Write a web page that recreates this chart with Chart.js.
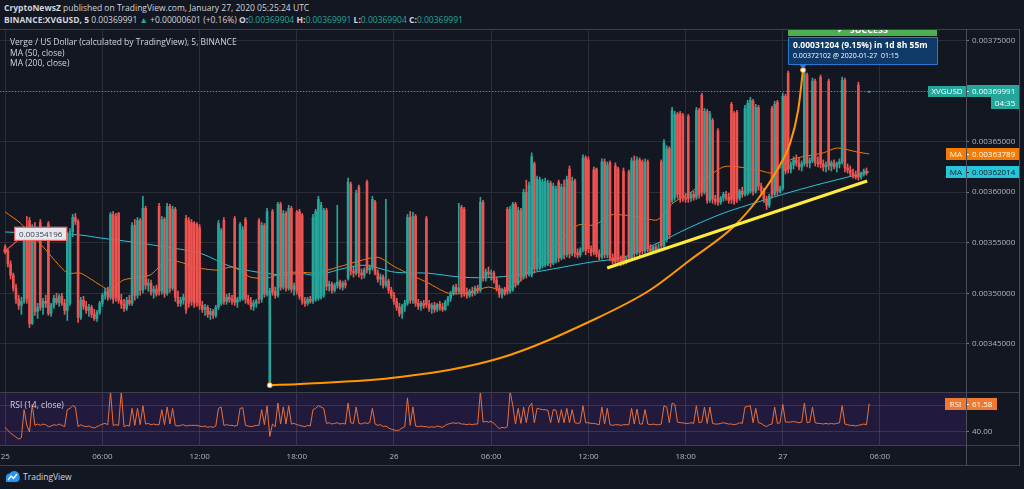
<!DOCTYPE html>
<html><head><meta charset="utf-8">
<script src="https://cdn.jsdelivr.net/npm/chart.js@4.4.1/dist/chart.umd.min.js"></script>
<style>
html,body{margin:0;padding:0;background:#131722;}
body{width:1024px;height:489px;position:relative;overflow:hidden;font-family:'Open Sans',sans-serif;color:#d1d4dc;}
.t{position:absolute;white-space:nowrap;font-size:8.5px;line-height:11px;}
.b{font-weight:700}
.g{color:#26a69a}
#mainWrap{position:absolute;left:0;top:29px;width:1024px;height:363px;}
#rsiWrap{position:absolute;left:0;top:392px;width:1024px;height:73px;}
.hl{position:absolute;height:1px;background:#3c404b;z-index:5;}
.vl{position:absolute;width:1px;background:#4a4e5a;z-index:5;}
</style></head>
<body>
<div class="t" style="left:4px;top:2px;"><span class="b">CryptoNewsZ</span> published on TradingView.com, January 27, 2020 05:25:24 UTC</div>
<div class="t" style="left:4px;top:14px;"><span class="b">BINANCE:XVGUSD, 5</span> 0.00369991 <span class="g">▲</span> +0.00000601 (+0.16%) <span class="b">O:</span><span class="g">0.00369904</span> <span class="b">H:</span><span class="g">0.00369991</span> <span class="b">L:</span><span class="g">0.00369904</span> <span class="b">C:</span><span class="g">0.00369991</span></div>

<div id="mainWrap"><canvas id="main"></canvas></div>
<div id="rsiWrap"><canvas id="rsi"></canvas></div>

<div class="hl" style="left:0;top:29px;width:1020px;"></div>
<div class="hl" style="left:0;top:392px;width:1020px;"></div>
<div class="hl" style="left:0;top:445px;width:1020px;"></div>
<div class="hl" style="left:0;top:465px;width:1020px;"></div>
<div class="vl" style="left:966px;top:29px;height:437px;"></div>
<div class="vl" style="left:1019px;top:29px;height:437px;"></div>

<div class="t" style="left:10px;top:36px;z-index:6;">Verge / US Dollar (calculated by TradingView), 5, BINANCE</div>
<div class="t" style="left:10px;top:47px;z-index:6;">MA (50, close)</div>
<div class="t" style="left:10px;top:57px;z-index:6;">MA (200, close)</div>
<div class="t" style="left:10px;top:399px;z-index:6;">RSI (14, close)</div>

<svg style="position:absolute;left:5px;top:470px" width="16" height="13" viewBox="0 0 16 13">
<path d="M1 12 L1 7 Q1 3.5 4.5 3.5 Q6 0.5 10 1 Q14.5 2 14.5 6.5 Q15.5 10.5 12 12 Z" fill="#2196f3"/>
<path d="M3 10 L6 6 L8.5 8.5 L12 4" stroke="#ffffff" stroke-width="1.3" fill="none"/>
</svg>
<div class="t" style="left:23px;top:471px;">TradingView</div>

<script>
// ---------- data (prices in units of 0.00001 USD) ----------
const SCALE = 1e-5;
const BAR_MINUTES = 10;                       // one candle = 10 minutes, starting 25 Jan 00:00 UTC
const timeTickValues = [0,6,12,18,24,30,36,42,48,54];   // hours since 25 Jan 00:00
const timeTickLabels = ['25','06:00','12:00','18:00','26','06:00','12:00','18:00','27','06:00'];
const priceTicks = [345,350,355,360,365,370,375];
const rsiTicks = [40,60];

const opens = [
354.6,354.2,352.9,351.8,350.5,349.4,348.8,349.2,355.5,357.2,
347.0,356.5,348.2,357.0,348.6,349.2,356.9,348.0,348.8,349.5,
349.1,349.7,349.0,348.3,349.0,356.1,357.5,357.1,347.6,349.3,
348.7,348.3,348.6,347.9,347.5,348.1,349.0,349.8,350.2,349.6,
357.8,357.6,357.9,349.3,348.9,348.5,349.3,349.0,356.7,349.8,
357.2,350.3,358.4,350.8,351.0,350.1,350.4,358.6,350.2,357.3,
350.0,358.6,350.5,358.3,349.6,349.0,349.3,357.4,357.2,357.0,
356.9,356.8,356.5,348.8,348.4,348.6,347.9,348.2,347.8,348.6,
349.0,357.2,349.2,349.6,349.4,357.4,349.1,349.4,349.5,357.3,
349.4,349.1,348.7,349.0,357.2,349.4,356.7,349.9,341.2,358.1,
350.2,349.8,358.8,350.6,357.9,350.5,358.4,350.4,358.0,358.1,
357.7,349.2,349.0,349.4,349.2,349.4,349.5,349.6,349.8,358.2,
350.7,350.9,350.3,350.8,351.1,350.6,351.0,351.5,360.8,352.2,
352.0,360.5,352.0,351.8,361.0,352.3,352.5,359.0,352.0,351.4,
351.6,350.8,351.2,350.3,349.8,349.2,348.6,348.0,348.7,349.0,
357.5,349.3,357.6,349.0,348.7,349.0,357.4,348.9,348.5,348.8,
348.4,348.9,348.6,348.4,349.1,349.5,350.0,350.6,350.2,358.5,
358.3,350.1,349.8,350.2,350.0,350.5,350.3,359.0,351.5,352.1,
351.9,352.0,351.3,350.5,349.9,350.3,358.3,350.2,350.4,358.8,
351.0,358.2,351.6,360.0,351.9,351.8,362.8,352.4,352.5,352.7,
352.8,352.9,360.9,353.0,353.2,361.0,353.5,360.5,353.8,362.3,
353.9,361.1,354.0,353.8,354.3,363.4,363.2,354.4,362.2,362.3,
353.9,353.6,363.0,353.8,362.9,353.5,362.6,362.3,353.3,362.1,
353.2,362.0,353.5,363.1,354.0,363.2,363.0,354.2,363.0,354.4,
354.2,354.6,354.3,363.0,354.7,355.3,364.3,359.2,359.5,367.7,
367.8,367.6,359.5,367.5,359.4,359.8,359.5,368.1,369.6,360.0,
368.0,359.2,367.1,359.3,366.1,359.0,359.4,359.8,359.5,368.7,
367.8,367.9,359.4,360.1,359.8,359.9,360.1,369.0,360.1,368.4,
360.6,360.1,359.3,358.7,368.3,359.8,368.9,360.1,360.4,369.5,
371.8,362.3,362.7,363.2,362.9,362.5,362.8,371.6,362.9,363.1,
371.0,363.0,371.4,362.8,362.5,371.0,362.6,362.9,362.5,362.8,
363.0,371.1,362.4,362.2,361.9,361.7,370.6,361.5,361.8,362.1,
369.904];
const highs = [
354.8,354.4,353.2,352.0,350.9,349.8,349.6,355.8,357.6,357.5,
356.8,357.0,349.0,357.3,349.5,349.8,357.1,349.0,349.8,350.0,
349.9,350.0,349.4,356.0,356.4,357.8,357.9,357.3,349.6,349.7,
349.2,348.9,348.8,348.4,348.3,349.2,350.0,350.5,350.6,358.0,
358.1,357.9,358.0,349.9,349.4,349.6,349.8,357.0,357.3,357.5,
357.4,359.6,358.6,351.4,351.3,350.7,350.8,358.9,357.6,357.5,
358.9,358.8,358.6,358.5,350.2,349.6,349.9,357.7,357.5,357.3,
357.1,357.0,356.8,349.2,348.9,348.8,348.5,348.4,348.8,357.2,
356.4,357.5,349.9,350.0,349.8,357.6,349.6,357.0,356.6,357.5,
349.8,349.6,349.3,349.4,357.4,357.0,356.9,358.4,350.5,358.3,
350.6,359.0,359.0,358.2,358.1,358.7,358.6,351.0,358.2,358.3,
357.9,349.6,349.6,349.7,357.8,358.3,359.6,359.0,358.4,358.4,
351.2,351.1,351.0,358.7,351.3,351.2,351.3,361.4,361.0,352.6,
360.2,360.7,352.4,352.5,361.2,352.8,359.6,359.2,352.3,351.9,
351.8,359.3,351.4,350.6,350.1,349.5,349.0,348.9,349.3,357.8,
358.1,358.0,357.8,349.4,349.2,349.3,357.6,349.3,349.0,349.1,
349.0,349.2,349.0,349.3,349.7,350.2,350.8,350.9,358.9,358.7,
358.5,350.5,350.4,350.6,350.7,350.8,359.5,359.2,352.4,352.6,
352.3,352.2,351.6,350.8,350.5,350.6,358.5,358.6,359.0,359.0,
358.5,358.4,360.3,361.2,361.0,363.9,363.0,361.6,361.5,361.3,
361.4,361.2,361.1,360.9,360.6,361.2,360.8,361.2,361.6,362.6,
361.5,361.3,354.4,354.5,363.7,363.6,363.5,354.7,362.5,362.4,
354.3,363.3,363.3,363.0,363.1,353.9,362.9,362.5,353.7,362.4,
353.6,362.2,363.4,363.6,363.5,363.4,363.2,363.3,363.2,354.8,
354.7,354.8,354.9,363.2,365.2,364.6,364.5,368.4,368.0,367.9,
368.0,367.8,359.9,367.7,360.0,360.1,368.4,368.3,369.8,368.3,
368.2,368.0,367.3,359.7,366.3,359.6,360.0,360.1,359.9,368.9,
368.0,368.1,360.3,360.5,368.6,369.1,369.4,369.2,368.7,368.6,
360.9,360.4,359.6,359.8,368.5,369.0,369.1,360.6,369.8,369.7,
372.0,363.0,363.5,363.7,363.4,363.1,372.2,371.8,363.4,371.3,
371.2,363.5,371.6,363.2,363.0,371.2,363.1,363.2,363.0,363.3,
371.4,371.3,362.8,362.6,362.3,362.1,370.9,362.0,362.3,362.4,
369.991];
const lows = [
353.9,352.6,351.4,350.2,349.0,348.4,347.9,349.0,349.0,346.6,
346.9,347.8,347.5,348.3,347.9,348.6,347.8,347.7,348.5,348.9,
348.7,348.8,347.9,347.3,348.8,355.6,356.8,347.1,347.4,348.4,
348.0,347.7,347.6,347.3,347.2,347.9,348.7,349.4,349.3,349.4,
349.0,349.2,349.0,348.5,348.2,348.3,348.8,348.8,349.3,349.5,
349.8,350.0,350.4,350.2,349.8,349.5,349.7,349.8,349.9,349.6,
349.8,350.1,350.3,349.2,348.7,348.7,348.9,348.0,348.6,348.8,
348.6,348.7,348.4,348.1,347.8,347.6,347.4,347.5,347.6,348.4,
348.8,348.9,348.9,349.1,348.9,348.8,348.6,349.2,349.3,349.0,
348.9,348.4,348.3,348.6,349.0,349.1,349.6,349.7,340.9,349.8,
349.5,349.6,350.3,350.4,350.2,350.3,350.1,349.8,349.9,349.4,
348.9,348.7,348.8,349.0,349.0,349.2,349.3,349.4,349.6,350.3,
350.2,350.0,350.1,350.5,350.4,350.3,350.5,351.3,351.8,351.6,
351.8,351.6,351.4,351.5,352.0,351.9,352.3,351.8,351.1,350.8,
350.5,350.6,350.0,349.5,348.9,348.3,347.7,347.5,348.2,348.8,
349.0,349.0,348.7,348.4,348.3,348.5,348.6,348.2,348.0,348.1,
348.2,348.3,348.2,348.3,348.8,349.2,349.8,349.9,350.0,349.6,
349.7,349.5,349.6,349.7,349.8,350.0,350.1,351.2,351.2,351.6,
351.3,351.0,350.2,349.6,349.5,349.8,349.9,350.0,350.2,350.6,
350.8,351.2,351.4,351.5,351.7,351.6,352.0,352.2,352.3,352.5,
352.6,352.7,352.6,352.8,353.0,353.1,353.3,353.4,353.6,353.5,
353.7,353.6,353.5,353.6,354.1,353.8,354.0,353.7,353.8,353.6,
353.3,353.4,353.5,353.5,353.2,352.9,352.8,352.9,352.7,352.8,
352.9,353.1,353.3,353.6,353.8,353.7,353.9,354.0,354.1,353.9,
354.0,354.0,354.1,354.3,354.5,355.1,355.4,359.0,359.2,359.4,
359.0,359.1,359.0,359.0,359.1,359.2,359.3,359.4,359.6,359.8,
358.9,359.0,358.9,358.8,358.7,358.8,359.1,359.2,358.9,358.9,
358.8,359.0,359.2,359.5,359.6,359.7,359.9,359.7,359.9,360.2,
359.8,359.0,358.3,358.5,359.4,359.6,359.7,359.9,360.2,361.8,
361.9,361.9,362.3,362.6,362.2,362.1,362.6,362.5,362.4,362.9,
362.6,362.5,362.4,362.1,362.0,362.2,362.1,362.3,362.0,362.4,
362.8,362.0,361.9,361.6,361.4,361.3,361.2,361.3,361.6,361.7,
369.904];
const closes = [
354.196,352.9,351.8,350.5,349.4,348.8,349.2,355.5,349.5,347.0,
356.5,348.2,348.6,348.6,349.2,349.0,348.0,348.8,349.5,349.1,
349.7,349.0,348.3,355.7,356.1,357.5,357.1,347.6,349.3,348.7,
348.3,348.6,347.9,347.5,348.1,349.0,349.8,350.2,349.6,357.8,
349.4,349.6,349.3,348.9,348.5,349.3,349.0,356.7,349.8,357.2,
350.3,358.4,350.8,351.0,350.1,350.4,349.9,350.2,357.3,350.0,
358.6,350.5,358.3,349.6,349.0,349.3,349.6,348.4,349.0,349.2,
349.0,349.1,348.8,348.4,348.6,347.9,348.2,347.8,348.6,356.9,
356.2,349.2,349.6,349.4,349.2,349.1,349.4,356.8,356.3,349.4,
349.1,348.7,349.0,349.2,349.4,356.7,349.9,358.1,350.2,350.1,
349.8,358.8,350.6,357.9,350.5,358.4,350.4,350.7,350.2,349.7,
349.2,349.0,349.4,349.2,357.5,358.1,359.3,358.7,358.2,350.7,
350.9,350.3,350.8,351.1,350.6,351.0,350.8,361.0,352.2,352.0,
359.9,352.0,351.8,352.3,352.3,352.5,359.3,352.0,351.4,351.6,
350.8,351.2,350.3,349.8,349.2,348.6,348.0,348.7,349.0,357.5,
349.3,357.6,349.0,348.7,349.0,348.8,348.9,348.5,348.8,348.4,
348.9,348.6,348.4,349.1,349.5,350.0,350.6,350.2,350.5,350.0,
350.1,349.8,350.2,350.0,350.5,350.3,359.0,351.5,352.1,351.9,
352.0,351.3,350.5,349.9,350.3,350.0,350.2,358.3,358.8,351.0,
358.2,351.6,360.0,351.9,360.7,363.5,352.4,361.3,361.2,361.0,
361.1,360.9,353.0,360.6,360.3,353.5,360.5,353.8,361.3,353.9,
361.1,354.0,353.8,354.3,363.4,354.2,354.4,354.0,354.1,353.9,
353.6,363.0,353.8,362.7,353.5,353.2,353.1,353.3,353.0,353.2,
353.4,353.5,363.1,354.0,363.2,354.1,354.2,363.0,354.4,354.2,
354.6,354.3,354.4,354.7,364.9,364.3,355.8,368.1,367.7,359.8,
359.4,359.5,359.3,359.4,359.8,359.5,368.1,359.8,360.0,368.0,
359.2,367.7,359.3,359.1,359.0,359.4,359.8,359.5,359.2,359.3,
359.1,359.4,360.1,359.8,368.3,368.8,369.1,360.1,368.4,360.6,
360.1,359.3,358.7,359.6,359.8,368.7,360.1,360.4,369.5,362.1,
362.3,362.7,363.2,362.9,362.5,362.8,371.8,362.9,363.1,371.0,
363.0,362.8,362.8,362.5,362.7,362.6,362.9,362.5,362.8,363.0,
371.1,362.4,362.2,361.9,361.7,361.5,361.5,361.8,362.1,361.9,
369.991];
const rsiValues = [
43.5,41,39,37.5,36,34.5,35.5,57,45,40,
61,45,46,45,46,45.5,44,44.5,45.5,45,
46,45,44,57,58,60,59,44,45.5,44.5,
44,44.5,43.5,43,44,45,46,46.5,45.5,71,
45,45.5,45,71,44,45,44.5,58,45,58,
45.5,60,46,46.5,45.5,46,45.5,45.5,57,45.5,
59,46,58,45,44.5,45,45.5,44.5,45,45,
45,45,44.5,44,44.5,43.5,44,43.5,44.5,58,
59,45,45.5,45,45,44.5,45,58,58.5,45,
44.5,44,44.5,45,45,57,45.5,60,36.5,46,
44,62,46,59,46,60,46,46.5,45.5,45,
44.5,44,45,44.5,57,58,60,59,58,46.5,
47,46,46.5,47,46,46.5,46,62,47,46.5,
59,46.5,46,47,46.5,47,58,46,45,45.5,
44,44.5,43,42,41.5,41,41.5,43,44,66,
45,59,44.5,44,44.5,44,44,43.5,44,43.5,
44.5,44,43.5,45,46,46.5,47,46.5,47,46,
46,45.5,46,45.5,46,46,71,47.5,48,47.5,
48,46.5,44.5,42.5,43.5,43,44,71,60,46,
58,46.5,59,47,59,62,47,58,57.5,57,
57,56.5,47,57,56.5,47,57,47,58,47,
57,47,46.5,47,60,47,47,46.5,46.5,46,
45.5,59,46,58,45.5,45,45.5,45.5,45,45.5,
45.5,45.5,58,46,57.5,46,46,57,46,45.5,
46,45.5,45.5,46,60,59,47,62,61,47.5,
47,47,46.5,46.5,47,46.5,60,47,47.5,59,
46.5,59,46.5,46,46,46.5,47,46.5,46,46,
45.5,46,47,46.5,59,59.5,60,47,58,47,
46.5,45,44,45.5,46,59,46.5,47,61,47.5,
47.5,47.5,48,47.5,47,47.5,62,47,47.5,59,
47,46.5,46.5,46,46.5,46,46.5,46,46.5,47,
60,46,45.5,45,45,44.5,45,45.5,46,45.5,
61.58];

// moving averages (time in hours, price in 0.00001 USD)
const ma50Times  = [0,0.93,2.35,3.83,4.63,5.86,6.48,7.28,7.9,8.95,10.0,10.99,11.6,13.09,14.07,15.12,16.17,17.16,18.21,19.14,20.56,22.04,23.02,24.07,26.11,27.35,28.58,29.81,30.68,31.67,32.72,34.14,35.37,36.42,37.35,39.2,40.25,41.23,42.28,44.32,46.42,47.41,48.46,50.49,51.36,52.59,53.33];
const ma50Values = [358.04,356.95,354.57,352.0,352.0,350.81,350.31,351.3,351.5,351.8,353.28,352.99,352.59,352.29,352.59,351.6,351.5,352.0,352.09,352.0,352.59,353.28,353.56,352.59,351.01,350.01,350.01,350.61,350.31,351.01,352.99,354.97,356.75,356.75,357.75,357.55,357.26,358.94,359.93,362.5,362.21,361.91,363.2,363.89,364.38,363.98,363.789];
const ma200Times  = [0,4.63,5.86,7.9,10.0,12.04,14.07,17.16,18.21,19.14,22.04,24.07,26.11,28.21,30.25,32.28,34.38,36.11,38.15,40.25,42.28,44.32,46.42,48.46,50.49,53.33];
const ma200Values = [356.06,355.76,355.47,355.06,354.55,353.96,352.57,351.78,351.98,351.78,352.77,352.08,351.98,351.58,351.58,351.98,352.57,353.07,353.56,354.95,356.53,357.92,359.01,360.0,360.89,362.014];

// drawings
const trendTimes  = [37.16, 53.21];
const trendPrices = [352.5, 361.11];
const curveTimes  = [16.333,18.21,24.38,30.56,36.42,39.81,42.28,44.94,46.42,47.65,48.46,48.95,49.25];
const curvePrices = [340.898,341.01,341.7,343.58,347.45,350.32,353.29,356.56,359.23,362.2,364.88,368.14,372.102];

// ---------- styling ----------
const UP = '#26a69a', DOWN = '#ef5350';
const GRID = '#2a2e39', AXIS = '#4a4e5a', TICK = '#b2b5be';
const MA50_C = '#f57c00', MA200_C = '#26c6da';
const RSI_C = '#e8703a', RSI_BG = '#221a3d';
const FONT = "'Open Sans', sans-serif";
Chart.defaults.font.family = FONT;
Chart.defaults.font.size = 8;
Chart.defaults.color = TICK;

const xMin = -0.321, xMax = 59.31;
const candleTimes = opens.map((_, i) => i * BAR_MINUTES / 60);
const N = closes.length;
const candleColor = c => closes[c.dataIndex] >= opens[c.dataIndex] ? UP : DOWN;
const fmt = v => (v * SCALE).toFixed(8);
const pts = (ts, vs) => ts.map((t, i) => ({x: t, y: vs[i]}));

function rectText(ctx, x0, yc, w, h, fill, text, color, align, tx) {
  ctx.fillStyle = fill;
  ctx.fillRect(x0, Math.round(yc - h / 2), w, h);
  if (text) {
    ctx.fillStyle = color;
    ctx.textBaseline = 'middle';
    ctx.textAlign = align || 'center';
    ctx.fillText(text, tx !== undefined ? tx : x0 + w / 2, Math.round(yc - h / 2) + h / 2 + 0.5);
  }
}
function valueBox(ctx, yc, fill, text, color, name, nameW, valW) {
  ctx.font = '8px ' + FONT;
  if (name) rectText(ctx, 966 - nameW, yc, nameW, 12, fill, name, color);
  rectText(ctx, 966, yc, valW || 53, 12, fill, text, color, 'left', 972);
  ctx.strokeStyle = color; ctx.lineWidth = 1;
  ctx.beginPath(); ctx.moveTo(966, Math.round(yc) + 0.5); ctx.lineTo(969, Math.round(yc) + 0.5); ctx.stroke();
}

const mainOverlay = {
  id: 'mainOverlay',
  afterDraw(chart) {
    const {ctx, chartArea: ca, scales: {x, y}} = chart;
    ctx.save();
    ctx.beginPath(); ctx.rect(ca.left, ca.top, ca.right - ca.left, ca.bottom - ca.top); ctx.clip();

    // last price dotted line
    const yLast = Math.round(y.getPixelForValue(closes[N - 1])) + 0.5;
    ctx.strokeStyle = UP; ctx.lineWidth = 1; ctx.setLineDash([1, 2]);
    ctx.beginPath(); ctx.moveTo(ca.left, yLast); ctx.lineTo(ca.right, yLast); ctx.stroke();
    ctx.setLineDash([]);

    // price label on first close
    const px0 = x.getPixelForValue(candleTimes[0]), py0 = y.getPixelForValue(closes[0]);
    ctx.strokeStyle = DOWN; ctx.lineWidth = 1.2;
    ctx.beginPath(); ctx.moveTo(px0, py0); ctx.lineTo(px0 + 12, py0 - 10); ctx.stroke();
    ctx.fillStyle = DOWN; ctx.beginPath(); ctx.arc(px0, py0, 2, 0, Math.PI * 2); ctx.fill();
    ctx.fillStyle = '#e6e8ee'; ctx.fillRect(px0 + 9, py0 - 24, 53, 14);
    ctx.strokeStyle = DOWN; ctx.lineWidth = 1; ctx.strokeRect(px0 + 9.5, py0 - 23.5, 52, 13);
    ctx.fillStyle = '#3a3e4a'; ctx.font = '8px ' + FONT; ctx.textAlign = 'center'; ctx.textBaseline = 'middle';
    ctx.fillText(fmt(closes[0]), px0 + 35.5, py0 - 16.5);

    // curve end markers
    const cs = {x: x.getPixelForValue(curveTimes[0]), y: y.getPixelForValue(curvePrices[0])};
    const ce = {x: x.getPixelForValue(curveTimes[curveTimes.length - 1]), y: y.getPixelForValue(curvePrices[curvePrices.length - 1])};
    [cs, ce].forEach(p => {
      ctx.fillStyle = '#ffffff'; ctx.strokeStyle = '#ff9800'; ctx.lineWidth = 1;
      ctx.beginPath(); ctx.arc(p.x, p.y, 2.5, 0, Math.PI * 2); ctx.fill(); ctx.stroke();
    });

    // measure annotation
    const hi = curvePrices[curvePrices.length - 1], lo = curvePrices[0];
    const bx = ce.x - 15, bw = 149, bTop = ce.y - 33, bh = 27;
    ctx.fillStyle = '#4caf50'; ctx.fillRect(bx, ca.top, bw, bTop - ca.top - 1);
    ctx.fillStyle = '#ffffff'; ctx.font = 'bold 9px ' + FONT; ctx.textAlign = 'center'; ctx.textBaseline = 'alphabetic';
    ctx.fillText('✓  SUCCESS', bx + bw / 2, ca.top + 4);
    ctx.fillStyle = '#0f3a68'; ctx.strokeStyle = '#2f7ad8'; ctx.lineWidth = 1;
    ctx.beginPath(); ctx.rect(bx + 0.5, bTop + 0.5, bw, bh); ctx.fill(); ctx.stroke();
    ctx.beginPath(); ctx.moveTo(ce.x - 4, bTop + bh + 0.5); ctx.lineTo(ce.x, bTop + bh + 4.5); ctx.lineTo(ce.x + 4, bTop + bh + 0.5);
    ctx.closePath(); ctx.fillStyle = '#2f7ad8'; ctx.fill();
    ctx.fillStyle = '#ffffff'; ctx.textAlign = 'left'; ctx.textBaseline = 'middle';
    ctx.font = 'bold 8.5px ' + FONT;
    ctx.fillText(fmt(hi - lo) + ' (' + ((hi - lo) / lo * 100).toFixed(2) + '%) in 1d 8h 55m', bx + 5, bTop + 8.5);
    ctx.font = '7px ' + FONT;
    ctx.fillText(fmt(hi) + ' @ 2020-01-27  01:15', bx + 5, bTop + 19.5);
    ctx.restore();

    // axis value labels
    ctx.save();
    const yL = y.getPixelForValue(closes[N - 1]);
    ctx.font = '8px ' + FONT;
    rectText(ctx, 928, yL, 38, 11, UP, 'XVGUSD', '#ffffff');
    valueBox(ctx, yL, UP, fmt(closes[N - 1]), '#ffffff');
    rectText(ctx, 991, yL + 12, 28, 12, UP, '04:35', '#ffffff');
    valueBox(ctx, y.getPixelForValue(ma50Values[ma50Values.length - 1]), MA50_C, fmt(ma50Values[ma50Values.length - 1]), '#ffffff', 'MA', 20);
    valueBox(ctx, y.getPixelForValue(ma200Values[ma200Values.length - 1]), MA200_C, fmt(ma200Values[ma200Values.length - 1]), '#131722', 'MA', 20);
    ctx.restore();
  }
};

new Chart(document.getElementById('main'), {
  type: 'bar',
  data: {
    datasets: [
      {type: 'line', label: 'trend', data: pts(trendTimes, trendPrices), borderColor: '#ffeb3b', borderWidth: 3, pointRadius: 0, order: 0},
      {type: 'line', label: 'curve', data: pts(curveTimes, curvePrices), borderColor: '#ff9800', borderWidth: 2, pointRadius: 0, cubicInterpolationMode: 'monotone', order: 1},
      {type: 'bar', label: 'body', data: candleTimes.map((t, i) => ({x: t, y: [opens[i], closes[i]]})),
        backgroundColor: candleColor, barThickness: 2, maxBarThickness: 2, minBarLength: 1, grouped: false, order: 2},
      {type: 'bar', label: 'wick', data: candleTimes.map((t, i) => ({x: t, y: [lows[i], highs[i]]})),
        backgroundColor: candleColor, barThickness: 1, maxBarThickness: 1, grouped: false, order: 3},
      {type: 'line', label: 'MA 50', data: pts(ma50Times, ma50Values), borderColor: MA50_C, borderWidth: 1, pointRadius: 0, tension: 0.25, order: 4},
      {type: 'line', label: 'MA 200', data: pts(ma200Times, ma200Values), borderColor: MA200_C, borderWidth: 1, pointRadius: 0, tension: 0.3, order: 5}
    ]
  },
  options: {
    responsive: true, maintainAspectRatio: false, animation: false, devicePixelRatio: 1,
    layout: {padding: 0},
    plugins: {legend: {display: false}, tooltip: {enabled: false}},
    events: [],
    scales: {
      x: {type: 'linear', min: xMin, max: xMax, offset: false,
        grid: {color: GRID, offset: false, drawTicks: false},
        border: {display: false}, ticks: {display: false},
        afterBuildTicks: s => { s.ticks = timeTickValues.map(v => ({value: v})); },
        afterFit: s => { s.height = 0; s.paddingLeft = 0; s.paddingRight = 0; }},
      y: {type: 'linear', position: 'right', min: 340.22, max: 376.16, beginAtZero: false,
        grid: {color: GRID, tickLength: 3, tickColor: '#787b86'},
        border: {display: true, color: AXIS},
        ticks: {color: TICK, padding: 3, font: {size: 8}, callback: v => fmt(v)},
        afterBuildTicks: s => { s.ticks = priceTicks.map(v => ({value: v})); },
        afterFit: s => { s.width = 58; s.paddingTop = 0; s.paddingBottom = 0; }}
    }
  },
  plugins: [mainOverlay]
});

const rsiOverlay = {
  id: 'rsiOverlay',
  beforeDraw(chart) {
    const {ctx, chartArea: ca} = chart;
    ctx.save(); ctx.fillStyle = RSI_BG;
    ctx.fillRect(ca.left, ca.top, ca.right - ca.left, ca.bottom - ca.top); ctx.restore();
  },
  afterDraw(chart) {
    const {ctx, scales: {y}} = chart;
    const v = rsiValues[N - 1];
    ctx.save();
    valueBox(ctx, y.getPixelForValue(v), '#f0792f', v.toFixed(2), '#ffffff', 'RSI', 21, 31);
    ctx.restore();
  }
};

new Chart(document.getElementById('rsi'), {
  type: 'line',
  data: {datasets: [{label: 'RSI', data: pts(candleTimes, rsiValues), borderColor: RSI_C, borderWidth: 1, pointRadius: 0, tension: 0}]},
  options: {
    responsive: true, maintainAspectRatio: false, animation: false, devicePixelRatio: 1,
    layout: {padding: 0},
    plugins: {legend: {display: false}, tooltip: {enabled: false}},
    events: [],
    scales: {
      x: {type: 'linear', min: xMin, max: xMax, offset: false,
        grid: {color: 'rgba(120,123,140,0.28)', drawTicks: false},
        border: {display: false},
        ticks: {color: TICK, padding: 7, autoSkip: false, maxRotation: 0, font: {size: 8},
          callback: (v, i) => timeTickLabels[i]},
        afterBuildTicks: s => { s.ticks = timeTickValues.map(v => ({value: v})); },
        afterFit: s => { s.height = 20; s.paddingLeft = 0; s.paddingRight = 0; }},
      y: {type: 'linear', position: 'right', min: 30, max: 70.5,
        grid: {color: 'rgba(120,123,140,0.28)', tickLength: 3, tickColor: '#787b86'},
        border: {display: true, color: AXIS},
        ticks: {color: TICK, padding: 3, font: {size: 8}, callback: v => v.toFixed(2)},
        afterBuildTicks: s => { s.ticks = rsiTicks.map(v => ({value: v})); },
        afterFit: s => { s.width = 58; s.paddingTop = 0; s.paddingBottom = 0; }}
    }
  },
  plugins: [rsiOverlay]
});
</script>
</body></html>
